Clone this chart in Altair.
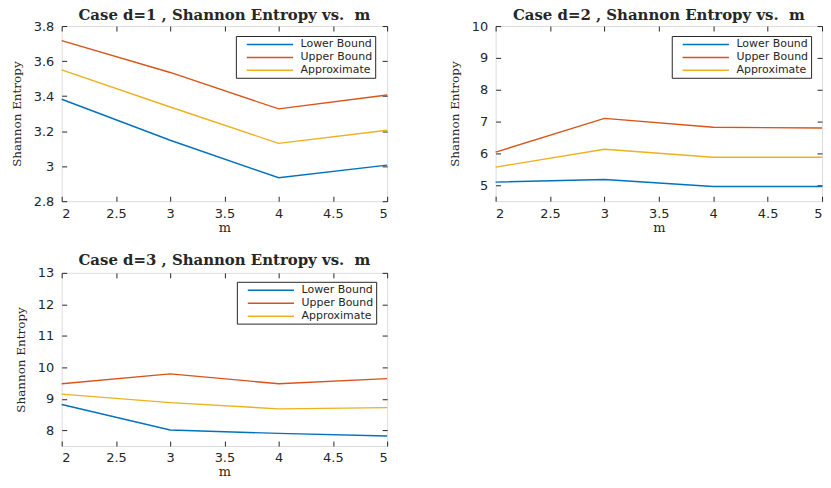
import altair as alt
import pandas as pd

m_vals = [2, 3, 4, 5]
series_names = ["Lower Bound", "Upper Bound", "Approximate"]
series_colors = ["#0072BD", "#D95319", "#EDB120"]
x_ticks = [2, 2.5, 3, 3.5, 4, 4.5, 5]

d1_lower = [3.382, 3.148, 2.934, 3.006]
d1_upper = [3.717, 3.535, 3.327, 3.406]
d1_approx = [3.550, 3.338, 3.130, 3.205]

d2_lower = [5.10, 5.18, 4.96, 4.96]
d2_upper = [6.04, 7.10, 6.82, 6.80]
d2_approx = [5.57, 6.13, 5.88, 5.88]

d3_lower = [8.82, 8.01, 7.90, 7.82]
d3_upper = [9.48, 9.79, 9.48, 9.64]
d3_approx = [9.15, 8.88, 8.68, 8.72]

d1_yticks = [2.8, 3.0, 3.2, 3.4, 3.6, 3.8]
d2_yticks = [5, 6, 7, 8, 9, 10]
d3_yticks = [8, 9, 10, 11, 12, 13]

TXT = "#262626"
SERIF = "DejaVu Serif"
SANS = "DejaVu Sans"


def make_df(lower, upper, approx):
    rows = []
    for name, vals in zip(series_names, [lower, upper, approx]):
        for m, v in zip(m_vals, vals):
            rows.append({"m": m, "value": v, "series": name})
    return pd.DataFrame(rows)


def panel(title, lower, upper, approx, ydomain, yticks, w, h, lx, ly, toff):
    df = make_df(lower, upper, approx)
    xs = alt.Scale(domain=[2, 5], nice=False, zero=False)
    ys = alt.Scale(domain=ydomain, nice=False, zero=False)
    lines = alt.Chart(df).mark_line(strokeWidth=1.4).encode(
        x=alt.X("m:Q", scale=xs,
                axis=alt.Axis(values=x_ticks, title="m", offset=-5, tickSize=5,
                              domain=False, grid=False, tickColor=TXT,
                              labelColor=TXT, labelFont=SANS, labelFontSize=13,
                              labelPadding=6, format="~r",
                              titleFont=SERIF, titleFontSize=13,
                              titleFontWeight="normal", titleColor=TXT,
                              titlePadding=1)),
        y=alt.Y("value:Q", scale=ys,
                axis=alt.Axis(values=yticks, title="Shannon Entropy", offset=-5,
                              tickSize=5, domain=False, grid=False,
                              tickColor=TXT, labelColor=TXT, labelFont=SANS,
                              labelFontSize=13, labelPadding=8, format="~r",
                              titleFont=SERIF, titleFontSize=12,
                              titleFontWeight="normal", titleColor=TXT,
                              titlePadding=10)),
        color=alt.Color("series:N",
                        scale=alt.Scale(domain=series_names, range=series_colors),
                        sort=series_names,
                        legend=alt.Legend(title=None, orient="none",
                                          legendX=lx, legendY=ly,
                                          symbolType="M0.45,0H8.9",
                                          symbolSize=121, symbolStrokeWidth=1.5,
                                          labelFont=SANS, labelFontSize=11,
                                          labelColor=TXT, strokeColor=TXT,
                                          fillColor="white", padding=2,
                                          rowPadding=1, labelOffset=50)),
    )
    ticks = alt.Chart(df).mark_line(opacity=0).encode(
        x=alt.X("m:Q", scale=xs,
                axis=alt.Axis(orient="top", values=x_ticks, title=None,
                              labels=False, offset=-5, tickSize=5,
                              domain=False, grid=False, tickColor=TXT)),
        y=alt.Y("value:Q", scale=ys,
                axis=alt.Axis(orient="right", values=yticks, title=None,
                              labels=False, offset=-5, tickSize=5,
                              domain=False, grid=False, tickColor=TXT)),
    )
    return alt.layer(lines, ticks).resolve_axis(
        x="independent", y="independent"
    ).properties(
        width=w, height=h,
        title=alt.TitleParams(title, font=SERIF, fontSize=15, fontWeight="bold",
                              color=TXT, offset=toff),
    )


p1 = panel("Case d=1 ,\u00a0Shannon Entropy vs.\u00a0\u00a0m", d1_lower, d1_upper,
           d1_approx, [2.8, 3.8], d1_yticks, 327, 176, 175, 10, -3)
p2 = panel("Case d=2 ,\u00a0Shannon Entropy vs.\u00a0\u00a0m", d2_lower, d2_upper,
           d2_approx, [4.5, 10], d2_yticks, 328, 176, 177, 10, -3)
p3 = panel("Case d=3 ,\u00a0Shannon Entropy vs.\u00a0\u00a0m", d3_lower, d3_upper,
           d3_approx, [7.5, 13], d3_yticks, 327, 174, 176, 9, -1)

top = alt.hconcat(p1, p2, spacing=56).resolve_scale(color="independent")
chart = alt.vconcat(top, p3, spacing=17).resolve_scale(
    color="independent"
).configure_view(
    stroke=TXT, strokeWidth=1
).configure(
    padding={"left": 9, "top": 6, "right": 5, "bottom": 5},
    background="white",
)

chart.save("out.html", embed_options={"renderer": "svg", "actions": False})
